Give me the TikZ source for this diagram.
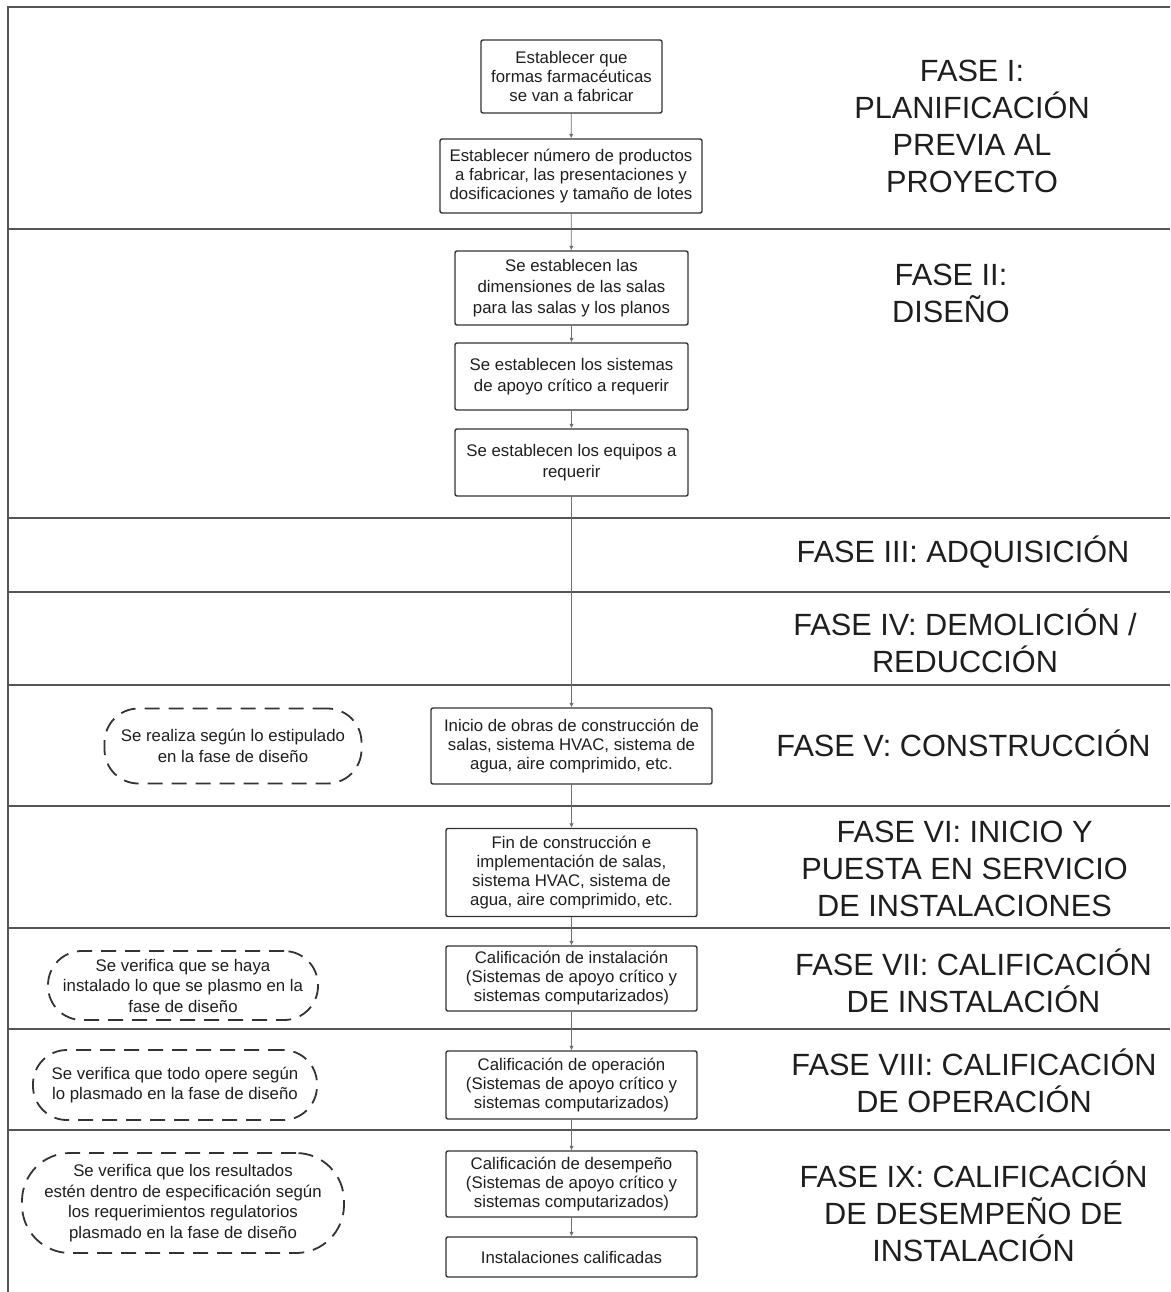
\documentclass[tikz,border=0pt]{standalone}
\usepackage{fontspec}
\setmainfont{Liberation Sans}
\usetikzlibrary{arrows.meta}
\definecolor{txt}{HTML}{1E1E1E}
\definecolor{bord}{HTML}{333333}
\definecolor{lanec}{HTML}{555555}
\definecolor{connc}{HTML}{707070}
\begin{document}
\begin{tikzpicture}[x=1pt,y=-1pt,
  stepbox/.style={draw=bord, line width=1.4pt, rounded corners=2pt, align=center,
    font=\fontsize{16.8}{19}\selectfont, text=txt, inner sep=0pt, minimum width=251pt},
  notebox/.style={draw=bord, line width=1.8pt, dash pattern=on 15pt off 9pt, rounded corners=34pt,
    align=center, font=\fontsize{16.8}{20.5}\selectfont, text=txt, inner sep=0pt},
  phase/.style={align=center, font=\fontsize{30.7}{37}\selectfont, text=txt, inner sep=0pt},
  laneline/.style={draw=lanec, line width=2pt},
  flow/.style={draw=connc, line width=0.8pt, -{Latex[length=4.5pt,width=4.5pt]}}]
\useasboundingbox (0,0) rectangle (1170,1292);
% frame and lanes
\draw[laneline] (8,1292) -- (8,7) -- (1170,7);
\foreach \yy in {229,518,592,685,806,928,1029,1130}
  \draw[laneline] (8,\yy) -- (1170,\yy);
% process boxes
\node[stepbox, minimum width=181pt, minimum height=73pt] (b1) at (571.5,76.5) {Establecer que\\formas farmacéuticas\\se van a fabricar};
\node[stepbox, minimum width=262pt, minimum height=74pt] (b2) at (571,176) {Establecer número de productos\\a fabricar, las presentaciones y\\dosificaciones y tamaño de lotes};
\node[stepbox, font=\fontsize{16.8}{21}\selectfont, minimum width=233pt, minimum height=74pt] (b3) at (571.5,288) {Se establecen las\\dimensiones de las salas\\para las salas y los planos};
\node[stepbox, font=\fontsize{16.8}{21}\selectfont, minimum width=233pt, minimum height=67pt] (b4) at (571.5,376.5) {Se establecen los sistemas\\de apoyo crítico a requerir};
\node[stepbox, font=\fontsize{16.8}{21}\selectfont, minimum width=233pt, minimum height=67pt] (b5) at (571.5,462.5) {Se establecen los equipos a\\requerir};
\node[stepbox, minimum width=281pt, minimum height=76pt] (b6) at (571.5,746) {Inicio de obras de construcción de\\salas, sistema HVAC, sistema de\\agua, aire comprimido, etc.};
\node[stepbox, minimum height=88pt] (b7) at (571.5,872.5) {Fin de construcción e\\implementación de salas,\\sistema HVAC, sistema de\\agua, aire comprimido, etc.};
\node[stepbox, minimum height=65pt] (b8) at (571.5,978.5) {Calificación de instalación\\(Sistemas de apoyo crítico y\\sistemas computarizados)};
\node[stepbox, minimum height=68pt] (b9) at (571.5,1085) {Calificación de operación\\(Sistemas de apoyo crítico y\\sistemas computarizados)};
\node[stepbox, minimum height=66pt] (b10) at (571.5,1184) {Calificación de desempeño\\(Sistemas de apoyo crítico y\\sistemas computarizados)};
\node[stepbox, minimum height=40pt] (b11) at (571.5,1257) {Instalaciones calificadas};
% connectors
\draw[flow] (b1) -- (b2);
\draw[flow] (b2) -- (b3);
\draw[flow] (b3) -- (b4);
\draw[flow] (b4) -- (b5);
\draw[flow] (b5) -- (b6);
\draw[flow] (b6) -- (b7);
\draw[flow] (b7) -- (b8);
\draw[flow] (b8) -- (b9);
\draw[flow] (b9) -- (b10);
\draw[flow] (b10) -- (b11);
% dashed notes
\node[notebox, minimum width=257pt, minimum height=75pt] (n1) at (233,746) {Se realiza según lo estipulado\\en la fase de diseño};
\node[notebox, minimum width=270pt, minimum height=69pt] (n2) at (183,985.5) {Se verifica que se haya\\instalado lo que se plasmo en la\\fase de diseño};
\node[notebox, minimum width=284pt, minimum height=70pt] (n3) at (175,1085) {Se verifica que todo opere según\\lo plasmado en la fase de diseño};
\node[notebox, rounded corners=48pt, minimum width=322pt, minimum height=100pt] (n4) at (183,1203) {Se verifica que los resultados\\estén dentro de especificación según\\los requerimientos regulatorios\\plasmado en la fase de diseño};
% phase labels
\node[phase] (p1) at (972,126) {FASE I:\\PLANIFICACIÓN\\PREVIA AL\\PROYECTO};
\node[phase] (p2) at (951,293) {FASE II:\\DISEÑO};
\node[phase] (p3) at (963,552) {FASE III: ADQUISICIÓN};
\node[phase] (p4) at (965,640.5) {FASE IV: DEMOLICIÓN /\\REDUCCIÓN};
\node[phase] (p5) at (963.5,743) {FASE V: CONSTRUCCIÓN};
\node[phase] (p6) at (964.5,869) {FASE VI: INICIO Y\\PUESTA EN SERVICIO\\DE INSTALACIONES};
\node[phase] (p7) at (973.5,980.5) {FASE VII: CALIFICACIÓN\\DE INSTALACIÓN};
\node[phase] (p8) at (974,1080.5) {FASE VIII: CALIFICACIÓN\\DE OPERACIÓN};
\node[phase] (p9) at (973.5,1211) {FASE IX: CALIFICACIÓN\\DE DESEMPEÑO DE\\INSTALACIÓN};
\end{tikzpicture}
\end{document}
